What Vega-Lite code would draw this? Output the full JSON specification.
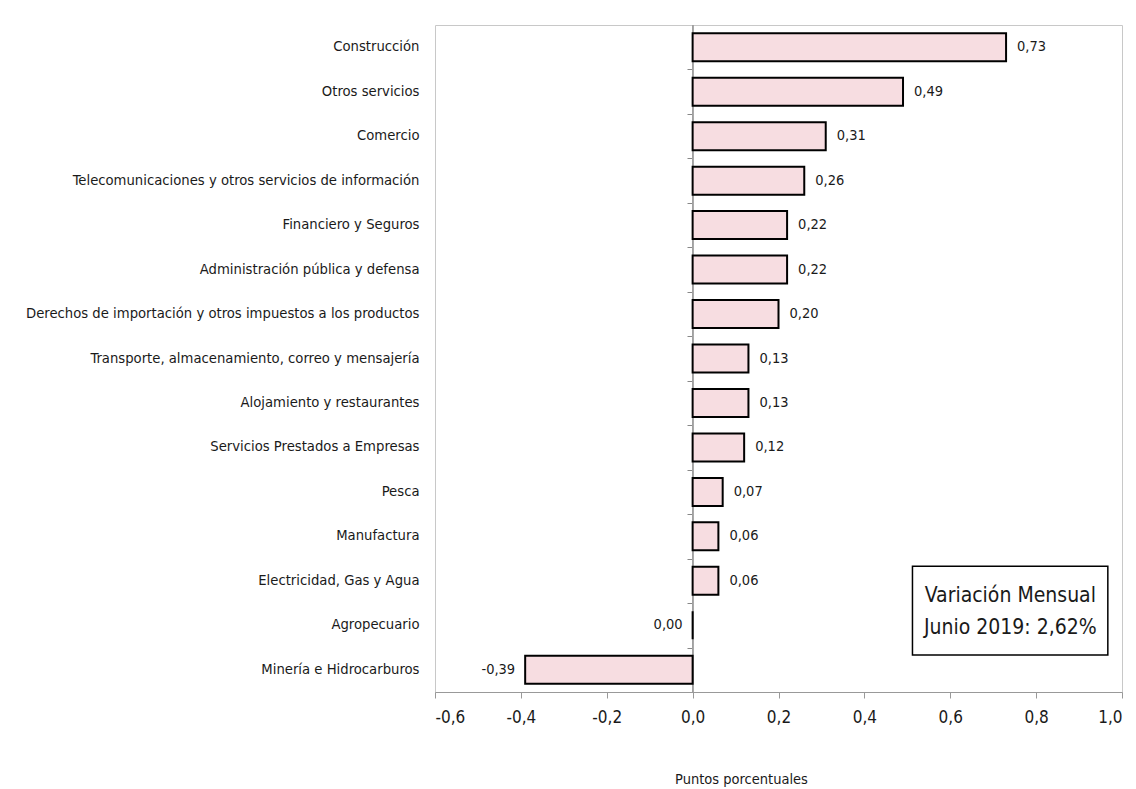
{
  "$schema": "https://vega.github.io/schema/vega-lite/v6.json",
  "width": 687,
  "height": 667,
  "autosize": "none",
  "padding": {"left": 435, "top": 25, "right": 14, "bottom": 97},
  "background": "white",
  "config": {
    "locale": {"number": {"decimal": ",", "thousands": ".", "grouping": [3], "currency": ["", ""], "minus": "-"}},
    "font": "DejaVu Sans Condensed, Liberation Sans, sans-serif",
    "view": {"stroke": "#c8c8c8", "strokeWidth": 1}
  },
  "datasets": {
    "sectores": [
      {"sector": "Construcción", "valor": 0.73},
      {"sector": "Otros servicios", "valor": 0.49},
      {"sector": "Comercio", "valor": 0.31},
      {"sector": "Telecomunicaciones y otros servicios de información", "valor": 0.26},
      {"sector": "Financiero y Seguros", "valor": 0.22},
      {"sector": "Administración pública y defensa", "valor": 0.22},
      {"sector": "Derechos de importación y otros impuestos a los productos", "valor": 0.20},
      {"sector": "Transporte, almacenamiento, correo y mensajería", "valor": 0.13},
      {"sector": "Alojamiento y restaurantes", "valor": 0.13},
      {"sector": "Servicios Prestados a Empresas", "valor": 0.12},
      {"sector": "Pesca", "valor": 0.07},
      {"sector": "Manufactura", "valor": 0.06},
      {"sector": "Electricidad, Gas y Agua", "valor": 0.06},
      {"sector": "Agropecuario", "valor": 0.00},
      {"sector": "Minería e Hidrocarburos", "valor": -0.39}
    ],
    "recuadro": [
      {"x1": 0.512, "x2": 0.967, "y1": 12.17, "y2": 14.17}
    ],
    "recuadroTexto": [
      {"linea": "Variación Mensual", "x": 0.74, "fila": 12.85},
      {"linea": "Junio 2019: 2,62%", "x": 0.74, "fila": 13.57}
    ]
  },
  "layer": [
    {
      "data": {"name": "sectores"},
      "encoding": {
        "y": {
          "field": "sector", "type": "nominal", "sort": null,
          "scale": {"paddingInner": 0.37, "paddingOuter": 0.185},
          "axis": {
            "title": null, "domain": false, "ticks": false,
            "labelPadding": 16, "labelFontSize": 14.7, "labelColor": "#1a1a1a",
            "labelLimit": 500
          }
        },
        "x": {
          "field": "valor", "type": "quantitative",
          "scale": {"domain": [-0.6, 1.0], "nice": false, "zero": false},
          "axis": {
            "title": "Puntos porcentuales",
            "titleFontSize": 14.5, "titleFontWeight": "normal", "titleColor": "#1a1a1a",
            "titleX": 306, "titleAlign": "center", "titleAnchor": null,
            "titlePadding": 47,
            "values": [-0.6, -0.4, -0.2, 0, 0.2, 0.4, 0.6, 0.8, 1.0],
            "format": ".1f", "grid": false,
            "domainColor": "#999999", "tickColor": "#999999", "tickSize": 6,
            "labelFontSize": 17, "labelColor": "#1a1a1a", "labelPadding": 11
          }
        }
      },
      "layer": [
        {
          "mark": {"type": "rule", "color": "#a0a0a0", "strokeWidth": 1},
          "encoding": {"x": {"datum": 0}, "y": null}
        },
        {
          "mark": {"type": "bar", "fill": "#f7dde1", "stroke": "#000000", "strokeWidth": 2}
        },
        {
          "transform": [{"filter": "datum.valor > 0"}],
          "mark": {"type": "text", "fontSize": 14.5, "color": "#1a1a1a", "align": "left", "dx": 11},
          "encoding": {"text": {"field": "valor", "type": "quantitative", "format": ".2f"}}
        },
        {
          "transform": [{"filter": "datum.valor <= 0"}],
          "mark": {"type": "text", "fontSize": 14.5, "color": "#1a1a1a", "align": "right", "dx": -10},
          "encoding": {"text": {"field": "valor", "type": "quantitative", "format": ".2f"}}
        }
      ]
    },
    {
      "layer": [
        {
          "data": {"name": "recuadro"},
          "mark": {"type": "rect", "fill": "white", "stroke": "#000000", "strokeWidth": 1.5},
          "encoding": {
            "x": {"field": "x1", "type": "quantitative"},
            "x2": {"field": "x2"},
            "y": {
              "field": "y1", "type": "quantitative",
              "scale": {"domain": [0, 15], "reverse": true, "nice": false, "zero": false},
              "axis": {
                "title": null, "orient": "left", "offset": -257,
                "values": [1, 2, 3, 4, 5, 6, 7, 8, 9, 10, 11, 12, 13, 14],
                "labels": false, "domain": false, "grid": false,
                "ticks": true, "tickSize": 5, "tickColor": "#888888", "tickWidth": 1
              }
            },
            "y2": {"field": "y2"}
          }
        },
        {
          "data": {"name": "recuadroTexto"},
          "mark": {"type": "text", "fontSize": 21, "color": "#1a1a1a", "align": "center", "baseline": "middle"},
          "encoding": {
            "x": {"field": "x", "type": "quantitative"},
            "y": {"field": "fila", "type": "quantitative"},
            "text": {"field": "linea"}
          }
        }
      ]
    }
  ],
  "resolve": {"scale": {"y": "independent"}}
}
